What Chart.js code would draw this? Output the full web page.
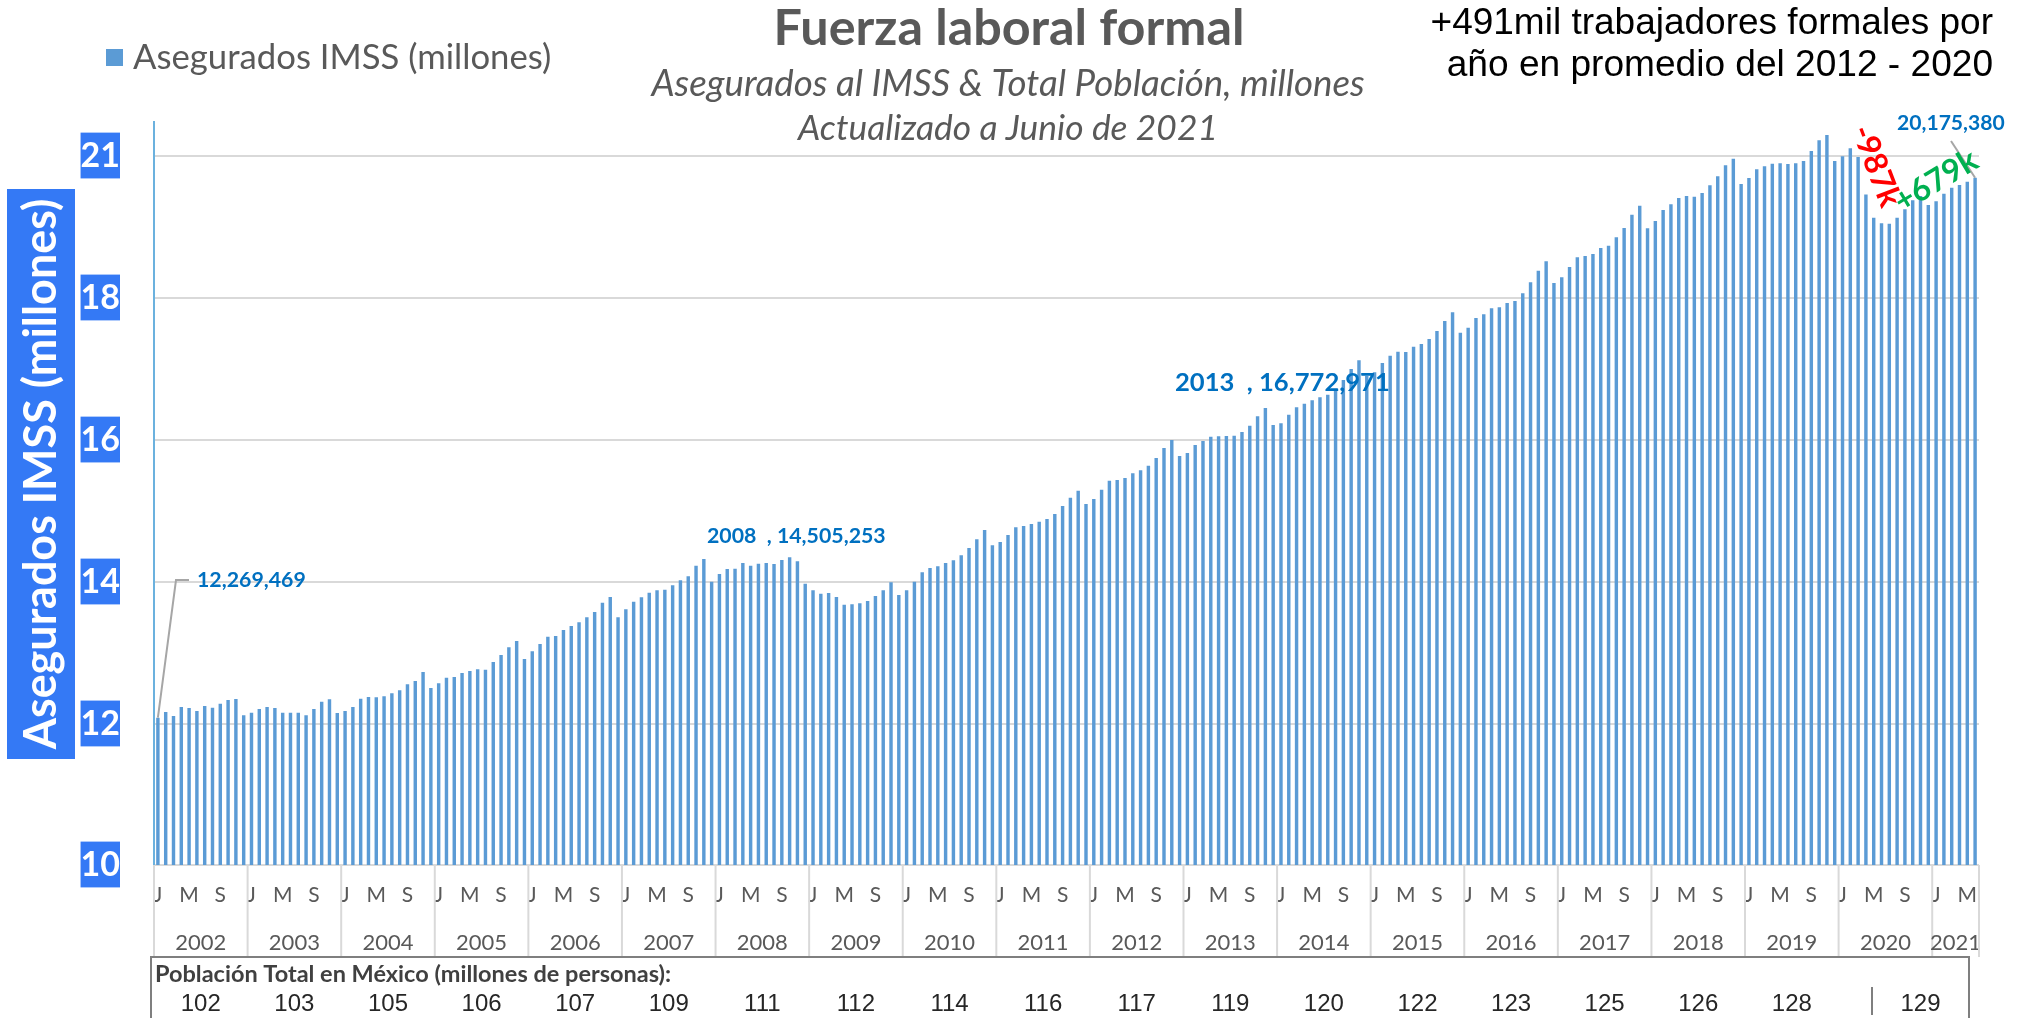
<!DOCTYPE html>
<html>
<head>
<meta charset="utf-8">
<script src="https://cdn.jsdelivr.net/npm/chart.js@4.4.1/dist/chart.umd.min.js"></script>
<style>
  html, body { margin: 0; padding: 0; background: #fff; overflow: hidden; }
  canvas { display: block; }
</style>
</head>
<body>
<canvas id="chart" width="2028" height="1018"></canvas>
<script>
// ---- Data ----
const years = [2002, 2003, 2004, 2005, 2006, 2007, 2008, 2009, 2010, 2011,
               2012, 2013, 2014, 2015, 2016, 2017, 2018, 2019, 2020, 2021];
const monthTicks = ['J', '', '', '', 'M', '', '', '', 'S', '', '', ''];

// Asegurados IMSS, millones (monthly, Jan 2002 - Jun 2021)
const asegurados = [
    12.219, 12.303, 12.244, 12.376, 12.362, 12.318, 12.391, 12.366, 12.425, 12.479, 12.494, 12.254, // 2002
    12.293, 12.347, 12.376, 12.362, 12.293, 12.293, 12.293, 12.254, 12.347, 12.454, 12.490, 12.288, // 2003
    12.318, 12.376, 12.498, 12.523, 12.519, 12.534, 12.578, 12.622, 12.710, 12.759, 12.891, 12.656, // 2004
    12.725, 12.807, 12.817, 12.876, 12.906, 12.931, 12.925, 13.038, 13.141, 13.254, 13.347, 13.082, // 2005
    13.195, 13.303, 13.410, 13.420, 13.508, 13.567, 13.621, 13.695, 13.773, 13.910, 13.993, 13.695, // 2006
    13.813, 13.924, 13.989, 14.057, 14.092, 14.101, 14.165, 14.239, 14.298, 14.453, 14.552, 14.218, // 2007
    14.331, 14.405, 14.409, 14.493, 14.453, 14.483, 14.493, 14.478, 14.537, 14.577, 14.518, 14.189, // 2008
    14.092, 14.042, 14.052, 13.993, 13.880, 13.886, 13.901, 13.935, 14.008, 14.092, 14.209, 14.023, // 2009
    14.092, 14.218, 14.356, 14.420, 14.445, 14.493, 14.533, 14.606, 14.714, 14.842, 14.978, 14.753, // 2010
    14.802, 14.905, 15.018, 15.037, 15.066, 15.100, 15.140, 15.213, 15.331, 15.453, 15.556, 15.360, // 2011
    15.434, 15.571, 15.703, 15.713, 15.743, 15.812, 15.856, 15.923, 16.037, 16.184, 16.301, 16.066, // 2012
    16.110, 16.228, 16.286, 16.350, 16.355, 16.360, 16.364, 16.419, 16.511, 16.649, 16.771, 16.522, // 2013
    16.547, 16.673, 16.782, 16.835, 16.885, 16.929, 16.967, 17.021, 17.183, 17.345, 17.473, 17.242, // 2014
    17.296, 17.433, 17.540, 17.599, 17.595, 17.673, 17.712, 17.786, 17.903, 18.050, 18.178, 17.878, // 2015
    17.952, 18.094, 18.149, 18.237, 18.252, 18.315, 18.344, 18.457, 18.619, 18.790, 18.928, 18.609, // 2016
    18.693, 18.844, 18.987, 19.006, 19.035, 19.123, 19.157, 19.281, 19.417, 19.613, 19.745, 19.413, // 2017
    19.520, 19.682, 19.766, 19.858, 19.888, 19.877, 19.932, 20.045, 20.177, 20.339, 20.436, 20.064, // 2018
    20.152, 20.280, 20.324, 20.363, 20.368, 20.358, 20.368, 20.402, 20.549, 20.707, 20.784, 20.402, // 2019
    20.471, 20.589, 20.461, 19.910, 19.569, 19.486, 19.481, 19.569, 19.692, 19.825, 19.888, 19.755, // 2020
    19.810, 19.922, 20.010, 20.049, 20.098, 20.157                                                  // 2021
];

// Población total en México (millones), one per year; last one spans 2020-2021
const poblacion = [102, 103, 105, 106, 107, 109, 111, 112, 114, 116,
                   117, 119, 120, 122, 123, 125, 126, 128, 129];

// Y axis: grid lines and the labels painted on them
const yTickValues = [10.054, 12.127, 14.214, 16.301, 18.389, 20.476];
const yTickLabels = ['10', '12', '14', '16', '18', '21'];
const yMin = 10.054;
const yMax = 20.976;

// Month labels for the category axis
const labels = [];
years.forEach(y => {
    for (let m = 0; m < 12; m++) {
        if (labels.length < asegurados.length) labels.push(y + '-' + (m + 1));
    }
});

// ---- Helpers ----
const BLUE_BOX = '#3479f5';
const LABEL_BLUE = '#0070c0';
const GRAY_TEXT = '#595959';
const CAL = 'Lato, "Open Sans", sans-serif';
const ARIAL = '"Liberation Sans", Arial, sans-serif';

function fitFont(ctx, text, style, weight, family, width) {
    ctx.font = `${style} ${weight} 100px ${family}`;
    const w = ctx.measureText(text).width;
    return `${style} ${weight} ${(100 * width / w).toFixed(1)}px ${family}`;
}

function text(ctx, str, x, y, font, color, align = 'left') {
    ctx.font = font;
    ctx.fillStyle = color;
    ctx.textAlign = align;
    ctx.textBaseline = 'middle';
    ctx.fillText(str, x, y);
}

// ---- Overlay plugin: titles, legend, labels, year axis, population row ----
const overlay = {
    id: 'overlay',
    beforeDraw(chart) {
        const ctx = chart.ctx;
        ctx.save();
        ctx.fillStyle = '#fff';
        ctx.fillRect(0, 0, chart.width, chart.height);
        ctx.restore();
    },
    afterDraw(chart) {
        const ctx = chart.ctx;
        const xs = chart.scales.x;
        const ys = chart.scales.y;
        const area = chart.chartArea;
        const step = (xs.getPixelForValue(1) - xs.getPixelForValue(0));
        ctx.save();

        // Title block
        text(ctx, 'Fuerza laboral formal', 1009, 29,
            fitFont(ctx, 'Fuerza laboral formal', 'normal', 'bold', CAL, 471), GRAY_TEXT, 'center');
        text(ctx, 'Asegurados al IMSS & Total Población, millones', 1008, 84,
            fitFont(ctx, 'Asegurados al IMSS & Total Población, millones', 'italic', 'normal', CAL, 713), GRAY_TEXT, 'center');
        text(ctx, 'Actualizado a Junio de 2021', 1008, 129,
            fitFont(ctx, 'Actualizado a Junio de 2021', 'italic', 'normal', CAL, 420), GRAY_TEXT, 'center');

        // Legend
        ctx.fillStyle = '#5b9bd5';
        ctx.fillRect(106, 49, 17, 17);
        text(ctx, 'Asegurados IMSS (millones)', 133, 58,
            fitFont(ctx, 'Asegurados IMSS (millones)', 'normal', 'normal', CAL, 419), GRAY_TEXT);

        // Top-right note
        text(ctx, '+491mil trabajadores formales por', 1993, 24,
            fitFont(ctx, '+491mil trabajadores formales por', 'normal', 'normal', ARIAL, 563), '#000', 'right');
        text(ctx, 'año en promedio del 2012 - 2020', 1993, 66,
            fitFont(ctx, 'año en promedio del 2012 - 2020', 'normal', 'normal', ARIAL, 547), '#000', 'right');

        // Rotated y title
        ctx.fillStyle = BLUE_BOX;
        ctx.fillRect(7, 189, 68, 570);
        ctx.save();
        ctx.translate(42, 474);
        ctx.rotate(-Math.PI / 2);
        text(ctx, 'Asegurados IMSS (millones)', 0, 0,
            fitFont(ctx, 'Asegurados IMSS (millones)', 'normal', 'bold', CAL, 551), '#fff', 'center');
        ctx.restore();

        // Year separators and year labels
        const sepBottom = 957;
        ctx.strokeStyle = '#d9d9d9';
        ctx.lineWidth = 2;
        const yearFont = `normal normal 22px ${CAL}`;
        years.forEach((y, k) => {
            const first = k * 12;
            const last = Math.min(first + 11, asegurados.length - 1);
            const left = xs.getPixelForValue(first) - step / 2;
            ctx.beginPath();
            ctx.moveTo(left, area.bottom);
            ctx.lineTo(left, sepBottom);
            ctx.stroke();
            const cx = (xs.getPixelForValue(first) + xs.getPixelForValue(last)) / 2;
            text(ctx, String(y), cx, 943, yearFont, GRAY_TEXT, 'center');
        });
        ctx.beginPath();
        ctx.moveTo(area.right, area.bottom);
        ctx.lineTo(area.right, sepBottom);
        ctx.stroke();

        // Population box
        const boxL = 151, boxR = 1969, boxT = 957;
        ctx.strokeStyle = '#7f7f7f';
        ctx.lineWidth = 2;
        ctx.beginPath();
        ctx.moveTo(boxL, chart.height);
        ctx.lineTo(boxL, boxT);
        ctx.lineTo(boxR, boxT);
        ctx.lineTo(boxR, chart.height);
        ctx.stroke();
        const sepX = 1872;
        ctx.beginPath();
        ctx.moveTo(sepX, 987);
        ctx.lineTo(sepX, 1015);
        ctx.stroke();

        text(ctx, 'Población Total en México (millones de personas):', 155, 974,
            fitFont(ctx, 'Población Total en México (millones de personas):', 'normal', 'bold', CAL, 516), '#404040');
        const popFont = `normal normal 24px ${ARIAL}`;
        poblacion.forEach((p, k) => {
            let cx;
            if (k < poblacion.length - 1) {
                cx = (xs.getPixelForValue(k * 12) + xs.getPixelForValue(k * 12 + 11)) / 2;
            } else {
                cx = (sepX + boxR) / 2;
            }
            text(ctx, String(p), cx, 1004, popFont, '#262626', 'center');
        });

        // Data labels
        const firstX = xs.getPixelForValue(0);
        const firstY = ys.getPixelForValue(asegurados[0]);
        ctx.strokeStyle = '#a6a6a6';
        ctx.lineWidth = 2;
        ctx.beginPath();
        ctx.moveTo(firstX, firstY);
        ctx.lineTo(176, 580);
        ctx.lineTo(189, 580);
        ctx.stroke();
        text(ctx, '12,269,469', 197, 580,
            fitFont(ctx, '12,269,469', 'normal', 'bold', CAL, 109), LABEL_BLUE);
        text(ctx, '2008  , 14,505,253', 707, 536,
            fitFont(ctx, '2008  , 14,505,253', 'normal', 'bold', CAL, 179), LABEL_BLUE);
        text(ctx, '2013  , 16,772,971', 1175, 383,
            fitFont(ctx, '2013  , 16,772,971', 'normal', 'bold', CAL, 215), LABEL_BLUE);

        const lastI = asegurados.length - 1;
        const lastX = xs.getPixelForValue(lastI);
        const lastY = ys.getPixelForValue(asegurados[lastI]);
        ctx.beginPath();
        ctx.moveTo(1951, 141);
        ctx.lineTo(lastX, lastY);
        ctx.stroke();
        text(ctx, '20,175,380', 1897, 123,
            fitFont(ctx, '20,175,380', 'normal', 'bold', CAL, 108), LABEL_BLUE);

        // Covid drop / recovery annotations
        ctx.save();
        ctx.translate(1876, 166);
        ctx.rotate(69 * Math.PI / 180);
        text(ctx, '-987k', 0, 0, `normal bold 32px ${CAL}`, '#ff0000', 'center');
        ctx.restore();
        ctx.save();
        ctx.translate(1936, 181);
        ctx.rotate(-31 * Math.PI / 180);
        text(ctx, '+679k', 0, 0, `normal bold 32px ${CAL}`, '#00b050', 'center');
        ctx.restore();

        ctx.restore();
    }
};

// ---- Chart ----
const ctx = document.getElementById('chart').getContext('2d');
new Chart(ctx, {
    type: 'bar',
    data: {
        labels: labels,
        datasets: [{
            label: 'Asegurados IMSS (millones)',
            data: asegurados,
            backgroundColor: '#5b9bd5',
            borderWidth: 0,
            barPercentage: 0.44,
            categoryPercentage: 1.0
        }]
    },
    options: {
        responsive: false,
        animation: false,
        devicePixelRatio: 1,
        layout: { padding: { left: 0, right: 49, top: 122, bottom: 0 } },
        plugins: {
            legend: { display: false },
            title: { display: false },
            tooltip: { enabled: false }
        },
        scales: {
            x: {
                grid: { display: false, drawTicks: false },
                border: { display: false },
                ticks: {
                    autoSkip: false,
                    maxRotation: 0,
                    minRotation: 0,
                    padding: 18,
                    color: GRAY_TEXT,
                    font: { family: CAL, size: 21 },
                    callback: (val, i) => monthTicks[i % 12]
                },
                afterFit: (scale) => { scale.height = 1018 - 865; }
            },
            y: {
                min: yMin,
                max: yMax,
                afterBuildTicks: (scale) => {
                    scale.ticks = yTickValues.map(v => ({ value: v }));
                },
                afterFit: (scale) => { scale.width = 154; },
                grid: { color: '#d9d9d9', lineWidth: 2, drawTicks: false },
                border: { color: '#6bb1de', width: 2 },
                ticks: {
                    padding: 34,
                    color: '#fff',
                    font: { family: CAL, size: 34, weight: 'bold' },
                    showLabelBackdrop: true,
                    backdropColor: BLUE_BOX,
                    backdropPadding: { top: 3, bottom: 2, left: 0, right: 0 },
                    callback: (val, i) => yTickLabels[i]
                }
            }
        }
    },
    plugins: [overlay]
});
</script>
</body>
</html>
